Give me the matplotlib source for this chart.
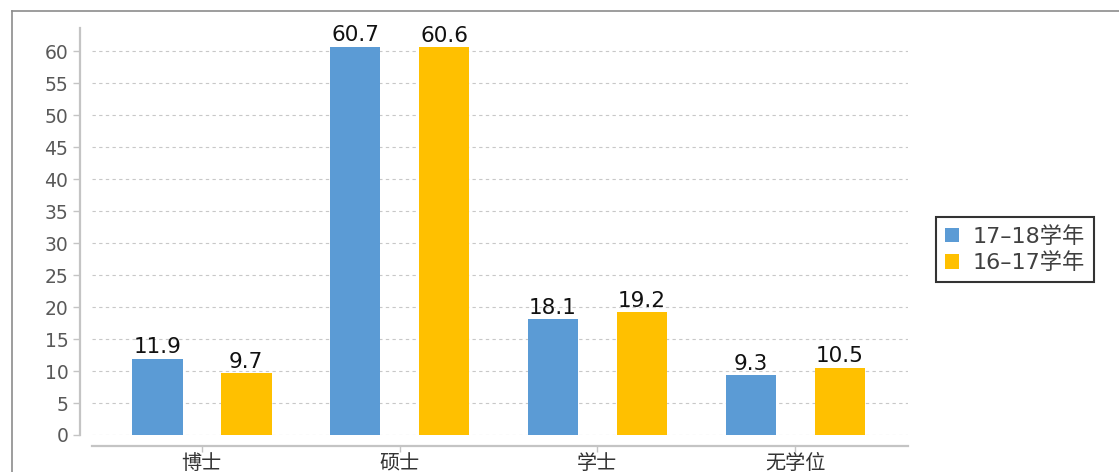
import matplotlib
matplotlib.use("Agg")
import matplotlib.pyplot as plt
import matplotlib.lines as mlines
import numpy as np

# data
categories = ["博士", "硕士", "学士", "无学位"]
series_names = ["17–18学年", "16–17学年"]
values_1718 = [11.9, 60.7, 18.1, 9.3]
values_1617 = [9.7, 60.6, 19.2, 10.5]
y_ticks = list(range(0, 61, 5))

colors = ["#5B9BD5", "#FFC000"]

plt.rcParams['font.family'] = ['DejaVu Sans', 'Noto Sans CJK SC']

fig = plt.figure(figsize=(11.19, 4.72), dpi=100)
W, H = 1119, 472

# outer frame of the embedded chart (top and left edges visible)
fig.add_artist(mlines.Line2D([12 / W, 1], [1 - 11 / H, 1 - 11 / H], color="#8c8c8c", lw=1.2))
fig.add_artist(mlines.Line2D([12 / W, 12 / W], [0, 1 - 11 / H], color="#8c8c8c", lw=1.2))

ax = fig.add_axes([92 / W, 1 - 435 / H, 816 / W, 407 / H])

x = np.arange(len(categories))
width = 0.255
offset = 0.225
b1 = ax.bar(x - offset, values_1718, width, color=colors[0], label=series_names[0], zorder=3)
b2 = ax.bar(x + offset, values_1617, width, color=colors[1], label=series_names[1], zorder=3)

for bars in (b1, b2):
    ax.bar_label(bars, labels=[f"{v:.1f}" for v in bars.datavalues], padding=1,
                 fontsize=15.5, color="#111111")

ax.set_xlim(-0.555, 3.57)
ax.set_ylim(0, 63.6)
ax.set_yticks(y_ticks)
ax.set_xticks(x)
ax.set_xticklabels(categories)

ax.grid(axis="y", linestyle=(0, (3, 3)), color="#c8c8c8", linewidth=0.8, zorder=0)
ax.set_axisbelow(True)

for s in ("top", "right"):
    ax.spines[s].set_visible(False)
ax.spines["left"].set_position(("outward", 9))
ax.spines["bottom"].set_position(("outward", 8))
ax.spines["left"].set_color("#c4c4c4")
ax.spines["bottom"].set_color("#c4c4c4")
ax.spines["left"].set_linewidth(1.6)
ax.spines["bottom"].set_linewidth(1.6)
ax.spines["left"].set_bounds(0, 63.6)

ax.tick_params(axis="y", colors="#c4c4c4", labelcolor="#595959", labelsize=13.5, length=5, width=1, pad=3)
ax.tick_params(axis="x", colors="#c4c4c4", labelcolor="#333333", labelsize=14.5, length=4, width=1, pad=1)
for t in ax.get_xticklabels():
    t.set_family(['Noto Sans CJK SC'])

leg = fig.legend(handles=[b1, b2], loc="upper left", bbox_to_anchor=(936 / W, 1 - 217 / H),
                 fontsize=16, frameon=True, fancybox=False, handlelength=0.65, handleheight=0.65,
                 handletextpad=0.6, borderpad=0.4, labelspacing=0.25, borderaxespad=0)
leg.get_frame().set_edgecolor("#000000")
leg.get_frame().set_linewidth(1.5)
for t in leg.get_texts():
    t.set_color("#404040")
    t.set_family(['DejaVu Sans', 'Noto Sans CJK SC'])

fig.savefig("out.png", dpi=100)
